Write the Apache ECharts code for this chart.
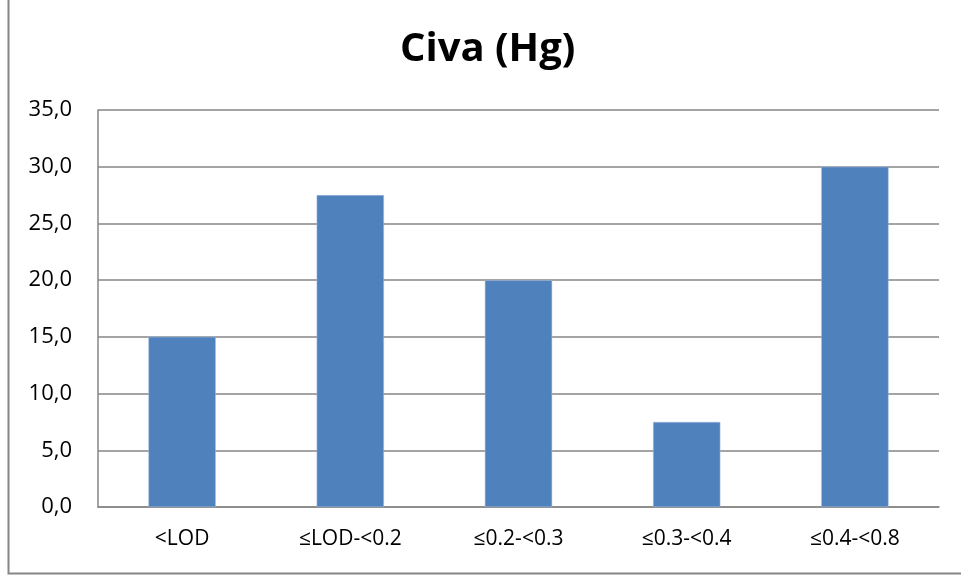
<!DOCTYPE html>
<html><head><meta charset="utf-8">
<script src="https://cdn.jsdelivr.net/npm/echarts@6/dist/echarts.min.js"></script>
<style>html,body{margin:0;padding:0;background:#fff}#c{width:961px;height:575px}</style>
</head><body><div id="c"></div>
<script>
const categories = ['<LOD', '≤LOD-<0.2', '≤0.2-<0.3', '≤0.3-<0.4', '≤0.4-<0.8'];
const values = [15.0, 27.5, 20.0, 7.5, 30.0];
const yTicks = { min: 0, max: 35, interval: 5 };
const titleText = 'Civa (Hg)';

const chart = echarts.init(document.getElementById('c'));
chart.setOption({
  animation: false,
  backgroundColor: '#fff',
  title: { text: titleText, left: 400, top: 30, padding: 0,
    textStyle: { fontFamily: 'Open Sans', fontWeight: 'bold', fontSize: 40, color: '#000' } },
  grid: { left: 98, right: 22, top: 110, bottom: 68 },
  xAxis: { type: 'category', data: categories,
    axisLine: { lineStyle: { color: '#868686', width: 1.5 } },
    axisTick: { show: false },
    axisLabel: { color: '#000', fontFamily: 'Open Sans', fontSize: 21, margin: 22 } },
  yAxis: { type: 'value', min: yTicks.min, max: yTicks.max, interval: yTicks.interval,
    axisLine: { show: true, lineStyle: { color: '#868686', width: 1.5 } },
    axisTick: { show: false },
    splitLine: { lineStyle: { color: '#868686', width: 1.5 } },
    axisLabel: { color: '#000', fontFamily: 'Open Sans', fontSize: 22, margin: 26,
      formatter: v => v.toFixed(1).replace('.', ',') } },
  series: [{ type: 'bar', data: values, barWidth: '40%',
    itemStyle: { color: '#4F81BD', borderColor: '#A7C0DE', borderWidth: 0.5 } }],
  graphic: [{ type: 'polyline', silent: true,
    shape: { points: [[8.5, 0], [8.5, 573.5], [961, 573.5]] },
    style: { stroke: '#868686', lineWidth: 2, fill: null } }]
});
</script></body></html>
